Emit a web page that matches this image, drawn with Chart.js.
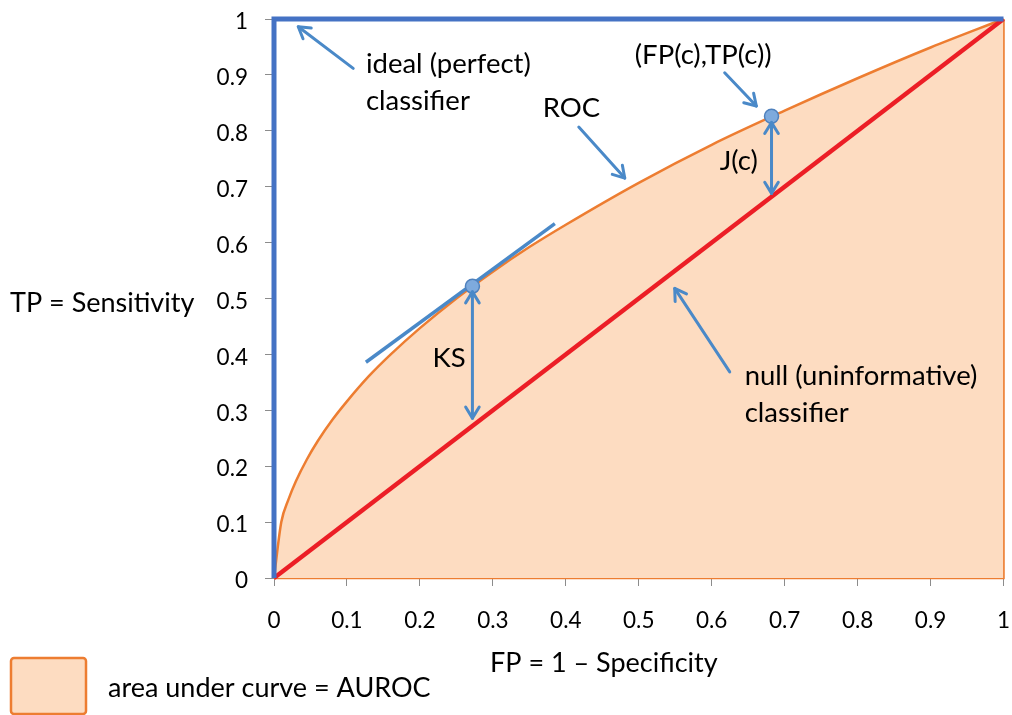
<!DOCTYPE html>
<html>
<head>
<meta charset="utf-8">
<script src="https://cdn.jsdelivr.net/npm/chart.js@4/dist/chart.umd.min.js"></script>
<style>
  html, body { margin: 0; padding: 0; background: #fff; }
  #wrap { width: 1012px; height: 715px; }
</style>
</head>
<body>
<div id="wrap"><canvas id="roc"></canvas></div>
<script>
// values
const fpr = [0, 0.01, 0.02, 0.03, 0.045, 0.06, 0.08, 0.1, 0.13, 0.16, 0.2, 0.25, 0.3, 0.35, 0.4, 0.5, 0.6, 0.7, 0.8, 0.9, 1];
const tpr = [0, 0.1, 0.141, 0.173, 0.212, 0.245, 0.283, 0.316, 0.361, 0.4, 0.447, 0.5, 0.548, 0.592, 0.632, 0.707, 0.775, 0.836, 0.894, 0.949, 1];
const idealX = [0, 0, 1];
const idealY = [0, 1, 1];
const nullX = [0, 1];
const nullY = [0, 1];
const boxX = [1, 1, 0];
const boxY = [1, 0, 0];
const cutX = [0.272, 0.682];
const cutY = [0.522, 0.826];
const tangentX = [0.126, 0.385];
const tangentY = [0.386, 0.634];
const tickValues = [0, 0.1, 0.2, 0.3, 0.4, 0.5, 0.6, 0.7, 0.8, 0.9, 1];

// arrows: [fromX, fromY, toX, toY, double]
const arrows = [
  [0.1086, 0.9117, 0.0333, 0.9862, false],
  [0.4178, 0.8067, 0.4808, 0.7154, false],
  [0.6178, 0.9039, 0.6612, 0.8443, false],
  [0.6247, 0.3687, 0.5493, 0.518, false],
  [0.682, 0.815, 0.682, 0.688, true],
  [0.272, 0.512, 0.272, 0.286, true]
];
// labels: [text, x, y(baseline)]
const notes = [
  ['ideal (perfect)', 0.126, 0.9028],
  ['classifier', 0.126, 0.8371],
  ['ROC', 0.3685, 0.8251],
  ['(FP(c),TP(c))', 0.4945, 0.9194],
  ['J(c)', 0.611, 0.7297],
  ['KS', 0.2174, 0.3777],
  ['null (uninformative)', 0.6452, 0.3449],
  ['classifier', 0.6452, 0.2792]
];

const FONT = 'Lato, "Open Sans", sans-serif';
const ORANGE = '#ED7D31';
const PEACH = '#FDDCC1';
const ARROW = '#4A89C8';

const pts = (xs, ys) => xs.map((x, i) => ({ x, y: ys[i] }));

function noPad(s) {
  s.paddingTop = 0; s.paddingBottom = 0; s.paddingLeft = 0; s.paddingRight = 0;
}

function arrowHead(ctx, x, y, ang) {
  const len = 13, spread = 0.55;
  ctx.beginPath();
  ctx.moveTo(x - len * Math.cos(ang - spread), y - len * Math.sin(ang - spread));
  ctx.lineTo(x, y);
  ctx.lineTo(x - len * Math.cos(ang + spread), y - len * Math.sin(ang + spread));
  ctx.stroke();
}

const extras = {
  id: 'extras',
  afterDatasetsDraw(chart) {
    const ctx = chart.ctx;
    const xs = chart.scales.x, ys = chart.scales.y;
    ctx.save();
    ctx.strokeStyle = ARROW;
    ctx.lineWidth = 3;
    ctx.lineCap = 'round';
    ctx.lineJoin = 'round';
    arrows.forEach(a => {
      const x1 = xs.getPixelForValue(a[0]), y1 = ys.getPixelForValue(a[1]);
      const x2 = xs.getPixelForValue(a[2]), y2 = ys.getPixelForValue(a[3]);
      ctx.beginPath();
      ctx.moveTo(x1, y1);
      ctx.lineTo(x2, y2);
      ctx.stroke();
      const ang = Math.atan2(y2 - y1, x2 - x1);
      arrowHead(ctx, x2, y2, ang);
      if (a[4]) arrowHead(ctx, x1, y1, ang + Math.PI);
    });
    ctx.fillStyle = '#000';
    ctx.font = '27.5px ' + FONT;
    ctx.textBaseline = 'alphabetic';
    ctx.textAlign = 'left';
    notes.forEach(n => {
      ctx.fillText(n[0], xs.getPixelForValue(n[1]), ys.getPixelForValue(n[2]));
    });
    // axis titles
    ctx.font = '27px ' + FONT;
    ctx.fillText('TP = Sensitivity', 10, 312);
    ctx.fillText('FP = 1 \u2013 Specificity', 490, 672);
    ctx.fillText('area under curve = AUROC', 108, 697);
    // legend swatch
    ctx.fillStyle = PEACH;
    ctx.strokeStyle = ORANGE;
    ctx.lineWidth = 2.5;
    ctx.beginPath();
    ctx.roundRect(11, 658, 75, 56, 3);
    ctx.fill();
    ctx.stroke();
    ctx.restore();
  }
};

new Chart(document.getElementById('roc'), {
  type: 'scatter',
  data: {
    datasets: [
      {
        label: 'points',
        data: pts(cutX, cutY),
        showLine: false,
        pointRadius: 7,
        pointBackgroundColor: '#7EAADD',
        pointBorderColor: '#4F81BD',
        pointBorderWidth: 1.5,
        order: 0
      },
      {
        label: 'tangent',
        data: pts(tangentX, tangentY),
        showLine: true,
        borderColor: ARROW,
        borderWidth: 3.5,
        pointRadius: 0,
        order: 1
      },
      {
        label: 'ideal',
        data: pts(idealX, idealY),
        showLine: true,
        borderColor: '#4472C4',
        borderWidth: 5,
        pointRadius: 0,
        order: 2
      },
      {
        label: 'null',
        data: pts(nullX, nullY),
        showLine: true,
        borderColor: '#EC1E26',
        borderWidth: 4.5,
        pointRadius: 0,
        order: 3
      },
      {
        label: 'ROC',
        data: pts(fpr, tpr),
        showLine: true,
        borderColor: ORANGE,
        borderWidth: 2.5,
        backgroundColor: PEACH,
        fill: 'origin',
        cubicInterpolationMode: 'monotone',
        pointRadius: 0,
        order: 4
      },
      {
        label: 'box',
        data: pts(boxX, boxY),
        showLine: true,
        borderColor: ORANGE,
        borderWidth: 2.5,
        pointRadius: 0,
        order: 5
      }
    ]
  },
  options: {
    responsive: true,
    maintainAspectRatio: false,
    animation: false,
    events: [],
    clip: false,
    layout: { padding: { left: 0, top: 19, right: 8, bottom: 0 } },
    plugins: { legend: { display: false }, tooltip: { enabled: false } },
    scales: {
      x: {
        type: 'linear',
        min: 0,
        max: 1,
        afterFit: s => { s.height = 137; noPad(s); },
        afterBuildTicks: s => { s.ticks = tickValues.map(v => ({ value: v })); },
        grid: { drawOnChartArea: false, drawTicks: true, tickLength: 8, color: '#8c8c8c' },
        border: { display: true, color: '#8c8c8c' },
        ticks: {
          padding: 21,
          color: '#000',
          font: { family: FONT, size: 22.5 },
          maxRotation: 0,
          callback: v => String(+v.toFixed(1))
        }
      },
      y: {
        type: 'linear',
        min: 0,
        max: 1,
        afterFit: s => { s.width = 274; noPad(s); },
        afterBuildTicks: s => { s.ticks = tickValues.map(v => ({ value: v })); },
        grid: { drawOnChartArea: false, drawTicks: true, tickLength: 9, color: '#8c8c8c' },
        border: { display: true, color: '#8c8c8c' },
        ticks: {
          padding: 17,
          labelOffset: 3,
          color: '#000',
          font: { family: FONT, size: 22.5 },
          callback: v => String(+v.toFixed(1))
        }
      }
    }
  },
  plugins: [extras]
});
</script>
</body>
</html>
